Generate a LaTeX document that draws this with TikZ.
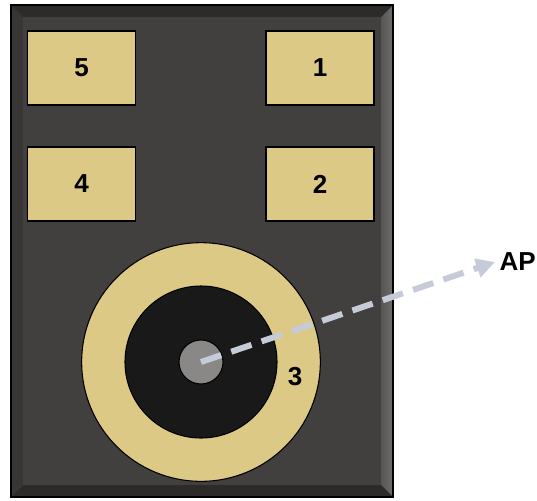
\documentclass[tikz,border=0pt]{standalone}
\usepackage{fontspec}
\setmainfont{Liberation Sans}
\usetikzlibrary{arrows.meta, positioning}

\definecolor{boardgray}{HTML}{42403E}
\definecolor{bevdark}{HTML}{2C2B2A}
\definecolor{bevlight}{HTML}{6E6C6A}
\definecolor{padtan}{HTML}{DCC985}
\definecolor{coregray}{HTML}{8A8886}
\definecolor{linkblue}{HTML}{C6CBD9}

\begin{document}
\begin{tikzpicture}[x=0.75pt,y=-0.75pt,node distance=179pt]
\tikzstyle{pad}=[rectangle,draw=black,line width=1.4pt,fill=padtan,minimum width=81pt,minimum height=55pt,inner sep=0pt,font=\bfseries\fontsize{19.5}{22}\selectfont]
\tikzstyle{link}=[-{Triangle[length=14pt,width=14pt]},line width=4.5pt,linkblue,dash pattern=on 16pt off 8pt]

\useasboundingbox (0,0) rectangle (537,501);

% board with bevel
\fill[boardgray] (11,5) rectangle (393,497);
\fill[bevdark] (11,5) -- (393,5) -- (381,17) -- (23,17) -- cycle;
\fill[left color=bevlight!80!black,right color=bevlight] (393,5) -- (393,497) -- (381,485) -- (381,17) -- cycle;
\fill[bevdark] (11,497) -- (393,497) -- (381,485) -- (23,485) -- cycle;
\fill[boardgray!85!black] (11,5) -- (23,17) -- (23,485) -- (11,497) -- cycle;
\fill[boardgray] (23,17) rectangle (381,485);
\draw[black,line width=1pt] (11,5) rectangle (393,497);

% pads
\node[pad] (p5) at (81.5,68) {5};
\node[pad] (p1) [right of = p5] {1};
\node[pad] (p4) [below of = p5, node distance=87pt] {4};
\node[pad] (p2) [below of = p1, node distance=87pt] {2};

% pad 3
\node[circle,draw=black,line width=0.8pt,fill=padtan,minimum size=179pt,inner sep=0pt] (ring) at (201,362) {};
\node[circle,draw=black,line width=0.8pt,fill=black!90,minimum size=114pt,inner sep=0pt] (hole) at (ring.center) {};
\node[circle,draw=black,line width=0.8pt,fill=coregray,minimum size=33pt,inner sep=0pt] (core) at (ring.center) {};
\node[font=\bfseries\fontsize{19.5}{22}\selectfont] (l3) at (295,377) {3};

\node[font=\bfseries\fontsize{19.5}{22}\selectfont,anchor=west] (ap) at (495,262) {AP};

\draw[link] (core.center) -- (ap.west);
\end{tikzpicture}
\end{document}
